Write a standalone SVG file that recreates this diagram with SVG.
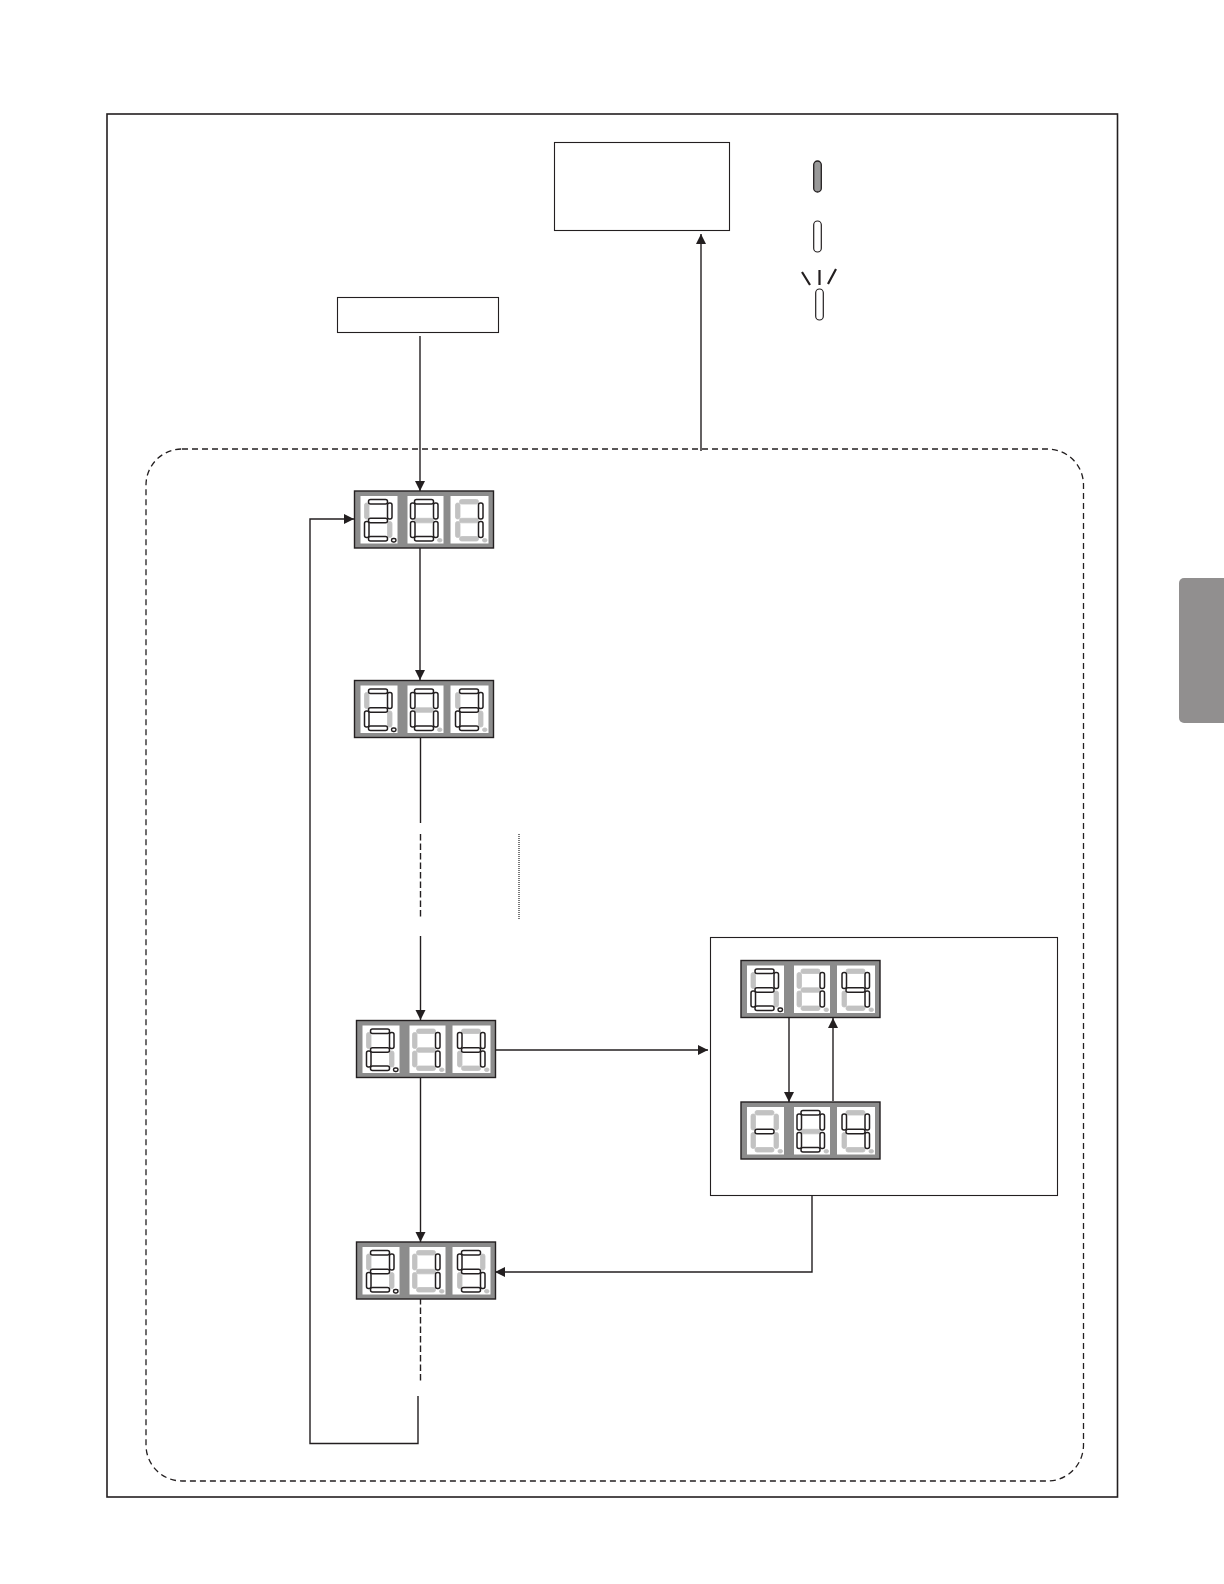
<svg xmlns="http://www.w3.org/2000/svg" width="1224" height="1584" viewBox="0 0 1224 1584">
<style>
.box{fill:none;stroke:#231f20;stroke-width:1.1}
.ln{fill:none;stroke:#231f20;stroke-width:1.4}
.dash{fill:none;stroke:#231f20;stroke-width:1.4;stroke-dasharray:6.5 3}
.on{fill:#fff;stroke:#231f20;stroke-width:1.5}
.off{fill:#c2c2c2;stroke:#c2c2c2;stroke-width:.8}
.dis{fill:#8c8c8c;stroke:#231f20;stroke-width:1.4}
.pan{fill:#fff;stroke:none}
</style>
<defs>
<marker id="ah" markerUnits="userSpaceOnUse" markerWidth="12" markerHeight="12" refX="10" refY="5" orient="auto"><path d="M0 0L10 5L0 10Z" fill="#231f20"/></marker>
<rect id="a" x="7" y="3.500" width="19" height="4.500" rx="2"/>
<rect id="b" x="26" y="7" width="4.500" height="16" rx="2"/>
<rect id="c" x="26" y="25.500" width="4.500" height="16" rx="2"/>
<rect id="d" x="7" y="40.500" width="19" height="4.500" rx="2"/>
<rect id="e" x="3" y="25.500" width="4.500" height="16" rx="2"/>
<rect id="f" x="3" y="7" width="4.500" height="16" rx="2"/>
<rect id="g" x="7" y="22.300" width="19" height="4.500" rx="2"/>
<rect id="p" x="30" y="42.500" width="4.500" height="3.500" rx="1.700"/>
<g id="frame"><rect class="dis" x="0" y="0" width="139" height="57"/><rect class="pan" x="6" y="5" width="37" height="47.500"/><rect class="pan" x="53" y="5" width="36" height="47.500"/><rect class="pan" x="96" y="5" width="38" height="47.500"/></g>
<g id="d2"><use href="#f" class="off"/><use href="#c" class="off"/><use href="#a" class="on"/><use href="#b" class="on"/><use href="#g" class="on"/><use href="#e" class="on"/><use href="#d" class="on"/><use href="#p" class="on"/></g>
<g id="d0"><use href="#g" class="off"/><use href="#p" class="off"/><use href="#a" class="on"/><use href="#b" class="on"/><use href="#c" class="on"/><use href="#d" class="on"/><use href="#e" class="on"/><use href="#f" class="on"/></g>
<g id="d1"><use href="#a" class="off"/><use href="#d" class="off"/><use href="#e" class="off"/><use href="#f" class="off"/><use href="#g" class="off"/><use href="#p" class="off"/><use href="#b" class="on"/><use href="#c" class="on"/></g>
<g id="dr2"><use href="#f" class="off"/><use href="#c" class="off"/><use href="#p" class="off"/><use href="#a" class="on"/><use href="#b" class="on"/><use href="#g" class="on"/><use href="#e" class="on"/><use href="#d" class="on"/></g>
<g id="d4"><use href="#a" class="off"/><use href="#d" class="off"/><use href="#e" class="off"/><use href="#p" class="off"/><use href="#b" class="on"/><use href="#c" class="on"/><use href="#f" class="on"/><use href="#g" class="on"/></g>
<g id="d5"><use href="#b" class="off"/><use href="#e" class="off"/><use href="#p" class="off"/><use href="#a" class="on"/><use href="#c" class="on"/><use href="#d" class="on"/><use href="#f" class="on"/><use href="#g" class="on"/></g>
<g id="dm"><use href="#a" class="off"/><use href="#b" class="off"/><use href="#c" class="off"/><use href="#d" class="off"/><use href="#e" class="off"/><use href="#f" class="off"/><use href="#p" class="off"/><use href="#g" class="on"/></g>
</defs>
<rect x="1179" y="578" width="60" height="145" rx="5" fill="#918f8f"/>
<rect id="outer" x="107" y="114" width="1010.500" height="1383" fill="none" stroke="#231f20" stroke-width="1.6"/>
<rect id="mode-area" x="146" y="449" width="937.500" height="1032" rx="36" fill="none" stroke="#231f20" stroke-width="1.3" stroke-dasharray="6 4"/>
<g id="box-top"><rect class="box" x="554.500" y="142.500" width="175" height="88"/></g>
<g id="box-start"><rect class="box" x="337.500" y="297.500" width="161" height="35"/></g>
<g id="box-inset"><rect class="box" x="710.500" y="937.500" width="347" height="258"/></g>
<g id="legend">
<rect x="813.700" y="161" width="7.600" height="31" rx="3.800" fill="#999" stroke="#231f20" stroke-width="1.3"/>
<rect x="813.700" y="221" width="7.600" height="31" rx="3.800" fill="#fff" stroke="#231f20" stroke-width="1.2"/>
<rect x="815.700" y="289" width="7.600" height="31" rx="3.800" fill="#fff" stroke="#231f20" stroke-width="1.2"/>
<path d="M802 272L810 285M819.500 270V285M836 269L828 284" fill="none" stroke="#231f20" stroke-width="2.2"/>
</g>
<g id="connectors">
<path class="ln" d="M420 336V491" marker-end="url(#ah)"/>
<path class="ln" d="M420 548V680" marker-end="url(#ah)"/>
<path class="ln" d="M420.500 737V823"/>
<path class="dash" d="M420.500 834V918"/>
<path class="ln" d="M420.500 936V1020" marker-end="url(#ah)"/>
<path class="ln" d="M420.500 1077V1242" marker-end="url(#ah)"/>
<path class="dash" d="M420.500 1298V1381"/>
<path class="ln" d="M418 1396V1443.500H310V519H354" marker-end="url(#ah)"/>
<path class="ln" d="M496 1050H708" marker-end="url(#ah)"/>
<path class="ln" d="M812 1195V1272H495" marker-end="url(#ah)"/>
<path class="ln" d="M789 1018V1102" marker-end="url(#ah)"/>
<path class="ln" d="M833 1101V1018" marker-end="url(#ah)"/>
<path class="ln" d="M701 451V234" marker-end="url(#ah)"/>
<path d="M519 834V920" fill="none" stroke="#333" stroke-width="1.3" stroke-dasharray="1 1"/>
</g>
<g id="display-201" transform="translate(354.500,491)"><use href="#frame"/><use href="#d2" x="7" y="5"/><use href="#d0" x="53" y="5"/><use href="#d1" x="98" y="5"/></g>
<g id="display-202" transform="translate(354.500,680.500)"><use href="#frame"/><use href="#d2" x="7" y="5"/><use href="#d0" x="53" y="5"/><use href="#dr2" x="98" y="5"/></g>
<g id="display-214" transform="translate(356.500,1020.500)"><use href="#frame"/><use href="#d2" x="7" y="5"/><use href="#d1" x="53" y="5"/><use href="#d4" x="98" y="5"/></g>
<g id="display-215" transform="translate(356.500,1242)"><use href="#frame"/><use href="#d2" x="7" y="5"/><use href="#d1" x="53" y="5"/><use href="#d5" x="98" y="5"/></g>
<g id="display-214b" transform="translate(741,960.500)"><use href="#frame"/><use href="#d2" x="7" y="5"/><use href="#d1" x="53" y="5"/><use href="#d4" x="98" y="5"/></g>
<g id="display-m04" transform="translate(741,1102)"><use href="#frame"/><use href="#dm" x="7" y="5"/><use href="#d0" x="53" y="5"/><use href="#d4" x="98" y="5"/></g>
</svg>
